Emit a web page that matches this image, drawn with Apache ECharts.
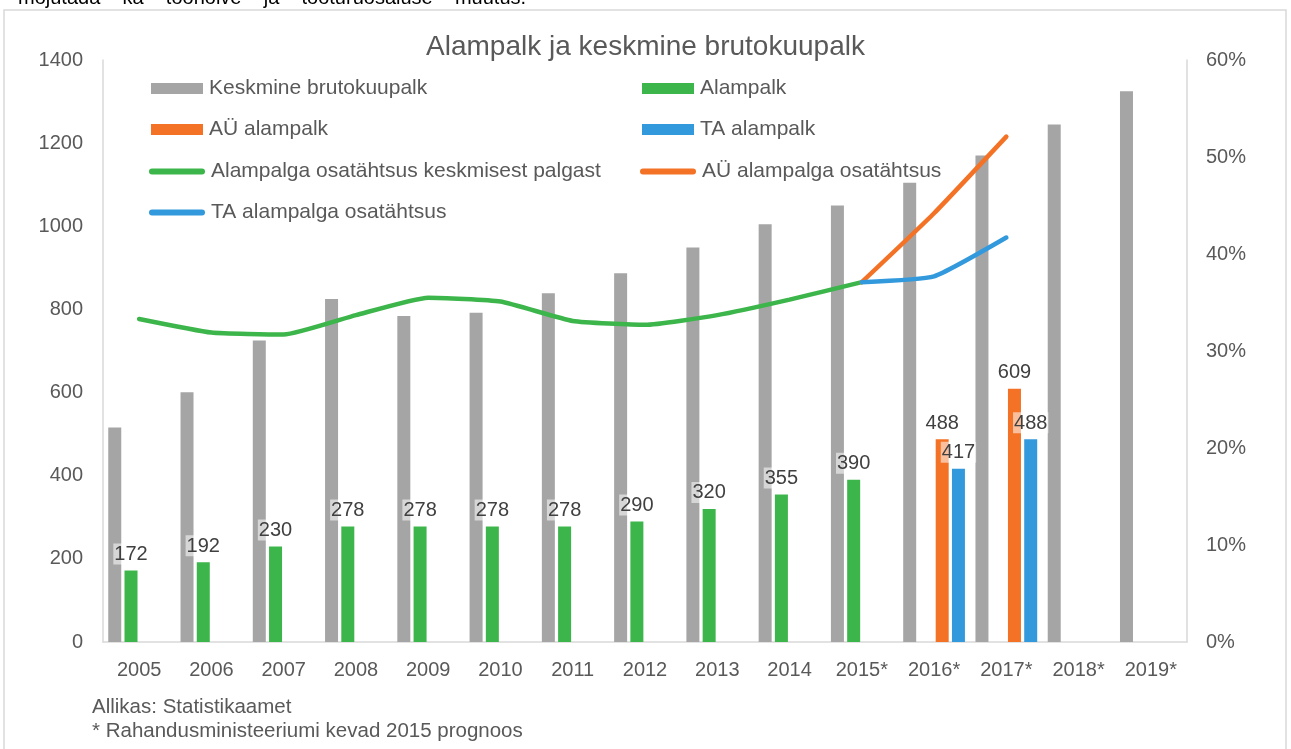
<!DOCTYPE html>
<html>
<head>
<meta charset="utf-8">
<script src="https://cdn.jsdelivr.net/npm/echarts@6/dist/echarts.min.js"></script>
<style>
  html, body { margin: 0; padding: 0; background: #fff; }
  #chart { width: 1291px; height: 749px; }
</style>
</head>
<body>
<div id="chart"></div>
<script>
// andmed
const aastad = ["2005", "2006", "2007", "2008", "2009", "2010", "2011", "2012", "2013", "2014", "2015*", "2016*", "2017*", "2018*", "2019*"];
const keskminePalk = [516, 601, 725, 825, 784, 792, 839, 887, 949, 1005, 1050, 1105, 1170, 1245, 1325];
const alampalk = [172, 192, 230, 278, 278, 278, 278, 290, 320, 355, 390, null, null, null, null];
const auAlampalk = [null, null, null, null, null, null, null, null, null, null, null, 488, 609, null, null];
const taAlampalk = [null, null, null, null, null, null, null, null, null, null, null, 417, 488, null, null];
// osatähtsus, %
const osatahtsus = [33.3, 31.9, 31.7, 33.7, 35.5, 35.1, 33.1, 32.7, 33.7, 35.3, 37.1, null, null, null, null];
const auOsatahtsus = [null, null, null, null, null, null, null, null, null, null, 37.1, 44.2, 52.1, null, null];
const taOsatahtsus = [null, null, null, null, null, null, null, null, null, null, 37.1, 37.7, 41.7, null, null];

const FONT = "Liberation Sans, Arial, sans-serif";
const TEKST = "#595959";
const HALL = "#a5a5a5", ROHELINE = "#3cb54b", ORANZ = "#f37225", SININE = "#3399dd";
// ümarate otstega joon legendi jaoks
const JOONE_IKOON = "path://M3,0 L53,0 A3,3 0 0 1 53,6 L3,6 A3,3 0 0 1 3,0 Z";

// ühe kirje legend
function legendItem(name, left, rowY, isLine) {
	return {
		data: [name],
		left: left,
		top: rowY - 10,
		padding: 0,
		selectedMode: false,
		icon: isLine ? JOONE_IKOON : "rect",
		itemWidth: isLine ? 56 : 52,
		itemHeight: isLine ? 6 : 11,
		itemGap: 0,
		textStyle: { fontSize: 21, color: TEKST, fontFamily: FONT, padding: [0, 0, 0, 1] },
	};
}

const barLabel = {
	show: true,
	position: "top",
	distance: 6,
	fontSize: 20,
	color: "#404040",
	fontFamily: FONT,
	backgroundColor: "rgba(255,255,255,0.55)",
	padding: [1, 1, 0, 1],
};

const chart = echarts.init(document.getElementById("chart"));
chart.setOption({
	animation: false,
	title: {
		text: "Alampalk ja keskmine brutokuupalk",
		left: "center",
		top: 33,
		padding: 0,
		textStyle: { fontSize: 28, fontWeight: "normal", color: TEKST, fontFamily: FONT },
	},
	legend: [
		legendItem("Keskmine brutokuupalk", 151, 88, false),
		legendItem("Alampalk", 642, 88, false),
		legendItem("AÜ alampalk", 151, 129, false),
		legendItem("TA alampalk", 642, 129, false),
		legendItem("Alampalga osatähtsus keskmisest palgast", 149, 171, true),
		legendItem("AÜ alampalga osatähtsus", 640, 171, true),
		legendItem("TA alampalga osatähtsus", 149, 212, true),
	],
	grid: { left: 103, right: 104, top: 60, bottom: 107 },
	xAxis: {
		type: "category",
		data: aastad,
		axisLine: { lineStyle: { color: "#d9d9d9", width: 1.5 } },
		axisTick: { show: false },
		axisLabel: { fontSize: 20, color: TEKST, fontFamily: FONT, margin: 18 },
	},
	yAxis: [
		{
			type: "value",
			min: 0,
			max: 1400,
			interval: 200,
			splitLine: { show: false },
			axisLine: { show: true, lineStyle: { color: "#d9d9d9", width: 1.5 } },
			axisTick: { show: false },
			axisLabel: { fontSize: 20, color: TEKST, fontFamily: FONT, margin: 20, formatter: (v) => String(v) },
		},
		{
			type: "value",
			min: 0,
			max: 60,
			interval: 10,
			splitLine: { show: false },
			axisLine: { show: true, lineStyle: { color: "#d9d9d9", width: 1.5 } },
			axisTick: { show: false },
			axisLabel: { fontSize: 20, color: TEKST, fontFamily: FONT, margin: 19, formatter: "{value}%" },
		},
	],
	series: [
		{
			name: "Keskmine brutokuupalk",
			type: "bar",
			data: keskminePalk,
			barWidth: 13,
			barGap: "25%",
			itemStyle: { color: HALL },
		},
		{
			name: "Alampalk",
			type: "bar",
			data: alampalk,
			barWidth: 13,
			itemStyle: { color: ROHELINE },
			label: barLabel,
			z: 3,
		},
		{
			name: "AÜ alampalk",
			type: "bar",
			data: auAlampalk,
			barWidth: 13,
			itemStyle: { color: ORANZ },
			label: barLabel,
			z: 3,
		},
		{
			name: "TA alampalk",
			type: "bar",
			data: taAlampalk,
			barWidth: 13,
			itemStyle: { color: SININE },
			label: barLabel,
			z: 4,
		},
		{
			name: "Alampalga osatähtsus keskmisest palgast",
			type: "line",
			yAxisIndex: 1,
			data: osatahtsus,
			smooth: 0.15,
			showSymbol: false,
			symbol: "none",
			lineStyle: { color: ROHELINE, width: 4.5, cap: "round" },
			itemStyle: { color: ROHELINE },
			z: 5,
		},
		{
			name: "AÜ alampalga osatähtsus",
			type: "line",
			yAxisIndex: 1,
			data: auOsatahtsus,
			smooth: 0.15,
			showSymbol: false,
			symbol: "none",
			lineStyle: { color: ORANZ, width: 4.5, cap: "round" },
			itemStyle: { color: ORANZ },
			z: 5,
		},
		{
			name: "TA alampalga osatähtsus",
			type: "line",
			yAxisIndex: 1,
			data: taOsatahtsus,
			smooth: 0.15,
			showSymbol: false,
			symbol: "none",
			lineStyle: { color: SININE, width: 4.5, cap: "round" },
			itemStyle: { color: SININE },
			z: 5,
		},
	],
	graphic: [
		{
			type: "rect",
			shape: { x: 4, y: 10, width: 1282, height: 760 },
			style: { fill: null, stroke: "#d9d9d9", lineWidth: 1.5 },
			silent: true,
			z: -1,
		},
		{
			type: "text",
			left: 18,
			top: -12,
			style: {
				text: "mõjutada    ka    tööhõive    ja    tööturuosaluse    muutus.",
				fontSize: 20,
				fill: "#000",
				fontFamily: FONT,
			},
		},
		{
			type: "text",
			left: 92,
			top: 697,
			style: { text: "Allikas: Statistikaamet", fontSize: 20.5, fill: TEKST, fontFamily: FONT },
		},
		{
			type: "text",
			left: 92,
			top: 721,
			style: { text: "* Rahandusministeeriumi kevad 2015 prognoos", fontSize: 20.5, fill: TEKST, fontFamily: FONT },
		},
	],
});
</script>
</body>
</html>
